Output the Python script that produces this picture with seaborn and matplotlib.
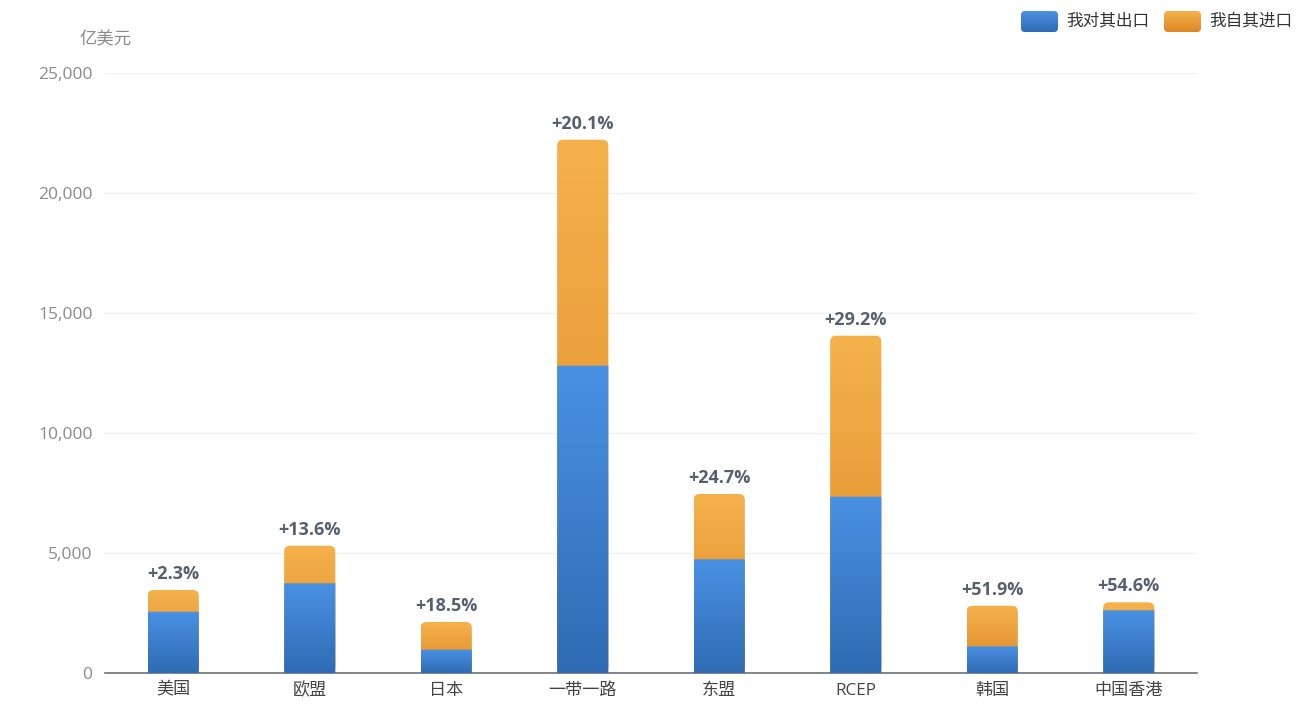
import matplotlib.pyplot as plt
import numpy as np
import seaborn as sns
from matplotlib.patches import FancyBboxPatch
from matplotlib.colors import LinearSegmentedColormap

# values in 亿美元
regions = ['美国', '欧盟', '日本', '一带一路', '东盟', 'RCEP', '韩国', '中国香港']
exports = [2554, 3738, 971, 12804, 4738, 7346, 1113, 2613]
imports = [904, 1566, 1154, 9417, 2720, 6708, 1691, 333]
growth = ['+2.3%', '+13.6%', '+18.5%', '+20.1%', '+24.7%', '+29.2%', '+51.9%', '+54.6%']
totals = [e + i for e, i in zip(exports, imports)]

blue_cmap = LinearSegmentedColormap.from_list('b', ['#2e6bb4', '#4a91e3'])
orange_cmap = LinearSegmentedColormap.from_list('o', ['#dd8826', '#f5b24c'])

sns.set_style('white')
plt.rcParams['font.family'] = ['Open Sans', 'Noto Sans CJK SC', 'DejaVu Sans']

W, H = 1316, 725
fig = plt.figure(figsize=(W / 100, H / 100), dpi=100)
ax = fig.add_axes([105 / W, 52 / H, 1092 / W, 600 / H])

sns.barplot(x=regions, y=totals, color='#f0a040', width=0.375, ax=ax)
sns.barplot(x=regions, y=exports, color='#4080d0', width=0.375, ax=ax)

ax.set_xlim(-0.5, len(regions) - 0.5)
ax.set_ylim(0, 25000)

# aspect of data units per pixel, so corners come out round
x_per_px = len(regions) / 1092
y_per_px = 25000 / 600
aspect = y_per_px / x_per_px


def gradient_bar(axis, x0, y0, w, h, cmap, radius_px, z):
    patch = FancyBboxPatch((x0, y0), w, h,
                           boxstyle=f'round,pad=0,rounding_size={radius_px * x_per_px}',
                           mutation_aspect=aspect, facecolor='none', edgecolor='none',
                           transform=axis.transData)
    axis.add_patch(patch)
    grad = np.linspace(0, 1, 256).reshape(-1, 1)
    im = axis.imshow(grad, extent=[x0, x0 + w, y0, y0 + h], origin='lower',
                     aspect='auto', cmap=cmap, zorder=z, interpolation='bicubic')
    im.set_clip_path(patch)


patches = list(ax.patches)
n = len(regions)
for k, p in enumerate(patches):
    p.set_visible(False)
    if k < n:
        gradient_bar(ax, p.get_x(), 0, p.get_width(), p.get_height(), orange_cmap, 6, 2)
    else:
        gradient_bar(ax, p.get_x(), 0, p.get_width(), p.get_height(), blue_cmap, 0, 3)

ax.set_xlim(-0.5, len(regions) - 0.5)
ax.set_ylim(0, 25000)

for i, (t, g) in enumerate(zip(totals, growth)):
    ax.annotate(g, (i, t), xytext=(0, 7), textcoords='offset pixels',
                ha='center', va='bottom', fontsize=13, fontweight='bold',
                color='#56606f', zorder=5)

ax.set_yticks(range(0, 25001, 5000))
ax.set_yticklabels([f'{v:,}' for v in range(0, 25001, 5000)])
ax.grid(axis='y', color='#eff1f5', linewidth=1)
ax.set_axisbelow(True)
for s in ['top', 'right', 'left']:
    ax.spines[s].set_visible(False)
ax.spines['bottom'].set_color('#6e7079')
ax.spines['bottom'].set_linewidth(1.2)
ax.tick_params(axis='y', length=0, pad=9, labelsize=12.5, labelcolor='#8a8a8a')
ax.tick_params(axis='x', length=0, pad=7, labelsize=12.3, labelcolor='#444444')
ax.set_xlabel('')
ax.set_ylabel('')

fig.text(106 / W, 1 - 40 / H, '亿美元', ha='center', va='center', fontsize=12.5, color='#8a8a8a')

# legend swatches with the same gradients
for x_px, label, cmap in [(1021, '我对其出口', blue_cmap), (1164, '我自其进口', orange_cmap)]:
    lax = fig.add_axes([x_px / W, 1 - 32 / H, 37 / W, 21 / H])
    lax.set_xlim(0, 37)
    lax.set_ylim(0, 21)
    lax.axis('off')
    patch = FancyBboxPatch((0, 0), 37, 21, boxstyle='round,pad=0,rounding_size=4',
                           facecolor='none', edgecolor='none', transform=lax.transData)
    lax.add_patch(patch)
    im = lax.imshow(np.linspace(0, 1, 64).reshape(-1, 1), extent=[0, 37, 0, 21],
                    origin='lower', aspect='auto', cmap=cmap)
    im.set_clip_path(patch)
    fig.text((x_px + 45) / W, 1 - 21 / H, label, ha='left', va='center',
             fontsize=12, color='#333333')

fig.savefig('out.png', dpi=100)
